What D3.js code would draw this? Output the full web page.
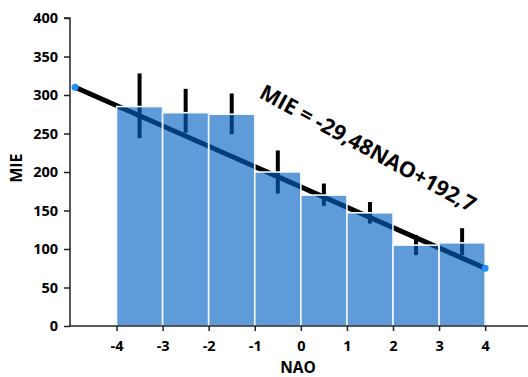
<!DOCTYPE html>
<html>
<head>
<meta charset="utf-8">
<script src="https://cdn.jsdelivr.net/npm/d3@7"></script>
<style>
  body { margin: 0; background: #fff; }
  text { font-family: "Open Sans", "Liberation Sans", sans-serif; font-weight: 700; }
</style>
</head>
<body>
<div id="chart"></div>
<script>
// bins of NAO (left edge, right edge) and mean MIE with error range
const binStart = [-4, -3, -2, -1, 0, 1, 2, 3];
const binEnd = [-3, -2, -1, 0, 1, 2, 3, 4];
const mieMean = [285, 277, 275, 200, 170, 147, 105, 108];
const errLow = [244, 251, 249, 172, 156, 133, 92, 92];
const errHigh = [328, 308, 302, 228, 185, 161, 118, 127];
// regression line endpoints as drawn
const fitNao = [-4.9, 4];
const fitMie = [310, 75];
const yTicks = [0, 50, 100, 150, 200, 250, 300, 350, 400];
const xTicks = [-4, -3, -2, -1, 0, 1, 2, 3, 4];
const equation = 'MIE = -29,48NAO+192,7';

const width = 528;
const height = 377;
const margin = { t: 18, r: 0, l: 70, b: 51 };

const svg = d3.select('#chart').append('svg')
  .attr('width', width)
  .attr('height', height)
  .attr('viewBox', [0, 0, width, height]);

const x = d3.scaleLinear()
  .domain([-5.01, 4.93])
  .range([margin.l, width - margin.r]);

const y = d3.scaleLinear()
  .domain([0, 400])
  .range([height - margin.b, margin.t]);

const bins = binStart.map((s, i) => ({
  s, e: binEnd[i], v: mieMean[i], lo: errLow[i], hi: errHigh[i],
}));

// regression line (under the bars)
svg.append('path')
  .datum(fitNao.map((n, i) => [n, fitMie[i]]))
  .attr('fill', 'none')
  .attr('stroke', '#000')
  .attr('stroke-width', 5)
  .attr('d', d3.line().x(d => x(d[0])).y(d => y(d[1])));

// error bars
svg.append('g')
  .selectAll('line')
  .data(bins)
  .join('line')
  .attr('x1', d => x((d.s + d.e) / 2))
  .attr('x2', d => x((d.s + d.e) / 2))
  .attr('y1', d => y(d.lo))
  .attr('y2', d => y(d.hi))
  .attr('stroke', '#000')
  .attr('stroke-width', 4);

// bars (translucent)
svg.append('g')
  .selectAll('rect')
  .data(bins)
  .join('rect')
  .attr('x', d => x(d.s))
  .attr('y', d => y(d.v))
  .attr('width', d => x(d.e) - x(d.s))
  .attr('height', d => y(0) - y(d.v))
  .attr('fill', 'rgb(0,97,194)')
  .attr('fill-opacity', 0.63)
  .attr('stroke', '#f4f8fc')
  .attr('stroke-width', 1.6);

// endpoints of the fit
svg.append('g')
  .selectAll('circle')
  .data(fitNao.map((n, i) => [n, fitMie[i]]))
  .join('circle')
  .attr('cx', d => x(d[0]))
  .attr('cy', d => y(d[1]))
  .attr('r', 3.5)
  .attr('fill', '#1e8fff');

const styleTicks = g => g.selectAll('.tick text')
  .attr('font-size', 14.5)
  .attr('fill', '#000')
  .attr('font-family', '"Open Sans", sans-serif')
  .attr('font-weight', 700);

// axes
const axisLeft = d3.axisLeft(y).tickValues(yTicks).tickFormat(d => String(d)).tickSize(6).tickPadding(6);
svg.append('g')
  .attr('transform', `translate(${margin.l},0)`)
  .call(axisLeft)
  .call(g => g.select('.domain').attr('stroke', '#222').attr('stroke-width', 1.5).attr('d', `M-6,${y(400)}H0V${y(0)}`))
  .call(g => g.selectAll('.tick line').attr('stroke', '#222').attr('stroke-width', 1.5))
  .call(styleTicks);

const axisBottom = d3.axisBottom(x).tickValues(xTicks).tickFormat(d => String(d)).tickSize(5).tickPadding(10);
svg.append('g')
  .attr('transform', `translate(0,${y(0)})`)
  .call(axisBottom)
  .call(g => g.select('.domain').attr('stroke', '#222').attr('stroke-width', 1.5).attr('d', `M${margin.l},0H${width}`))
  .call(g => g.selectAll('.tick line').attr('stroke', '#222').attr('stroke-width', 1.5))
  .call(styleTicks);

// axis titles
svg.append('text')
  .attr('transform', `translate(22,${y(205)}) rotate(-90)`)
  .attr('text-anchor', 'middle')
  .attr('font-size', 16)
  .text('MIE');

svg.append('text')
  .attr('x', 298)
  .attr('y', 373)
  .attr('text-anchor', 'middle')
  .attr('font-size', 15.5)
  .text('NAO');

// equation
svg.append('text')
  .attr('transform', 'translate(258,97) rotate(28.5)')
  .attr('font-size', 21.5)
  .text(equation);
</script>
</body>
</html>
